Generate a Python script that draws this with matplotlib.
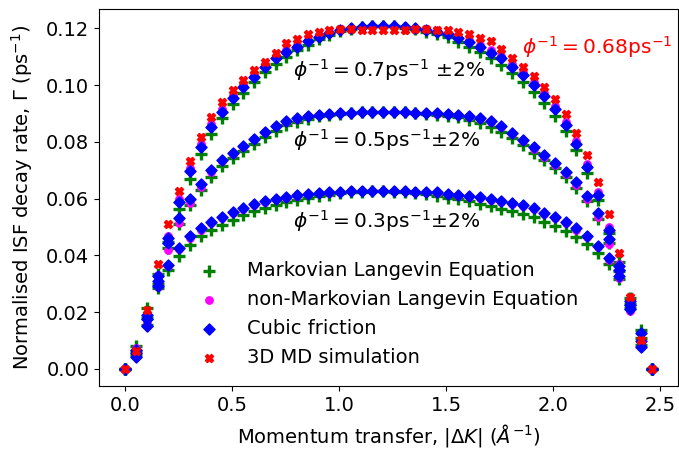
"""
ISF decay rate vs momentum transfer for three friction values,
comparing the Langevin models with the 3D MD result.
"""

import matplotlib
matplotlib.use("Agg")
import matplotlib.pyplot as plt

# momentum transfer |dK| (1/A)
dk = [0.0000, 0.0502, 0.1004, 0.1506, 0.2008, 0.2510, 0.3012, 0.3514, 0.4016, 0.4518,
      0.5020, 0.5522, 0.6024, 0.6527, 0.7029, 0.7531, 0.8033, 0.8535, 0.9037, 0.9539,
      1.0041, 1.0543, 1.1045, 1.1547, 1.2049, 1.2551, 1.3053, 1.3555, 1.4057, 1.4559,
      1.5061, 1.5563, 1.6065, 1.6567, 1.7069, 1.7571, 1.8073, 1.8576, 1.9078, 1.9580,
      2.0082, 2.0584, 2.1086, 2.1588, 2.2090, 2.2592, 2.3094, 2.3596, 2.4098, 2.4600]

# phi^-1 = 0.7 ps^-1
cubic_07 = [0.0, 0.0068, 0.0191, 0.0328, 0.0461, 0.0588, 0.0697, 0.0782, 0.0851, 0.0906,
            0.0954, 0.0993, 0.1030, 0.1065, 0.1094, 0.1116, 0.1136, 0.1154, 0.1170, 0.1185,
            0.1194, 0.1200, 0.1205, 0.1207, 0.1208, 0.1207, 0.1204, 0.1200, 0.1194, 0.1188,
            0.1179, 0.1165, 0.1151, 0.1135, 0.1115, 0.1094, 0.1065, 0.1036, 0.1000, 0.0962,
            0.0915, 0.0860, 0.0793, 0.0713, 0.0613, 0.0488, 0.0362, 0.0240, 0.0125, 0.0]
markov_07 = [0.0, 0.0080, 0.0215, 0.0333, 0.0448, 0.0565, 0.0668, 0.0758, 0.0828, 0.0884,
             0.0933, 0.0973, 0.1010, 0.1045, 0.1076, 0.1100, 0.1123, 0.1143, 0.1162, 0.1178,
             0.1190, 0.1198, 0.1204, 0.1207, 0.1208, 0.1207, 0.1203, 0.1197, 0.1189, 0.1180,
             0.1168, 0.1152, 0.1135, 0.1116, 0.1094, 0.1072, 0.1042, 0.1012, 0.0976, 0.0938,
             0.0892, 0.0838, 0.0772, 0.0692, 0.0596, 0.0478, 0.0375, 0.0250, 0.0138, 0.0]
nonmarkov_07 = [0.0, 0.0072, 0.0195, 0.0332, 0.0470, 0.0598, 0.0707, 0.0792, 0.0862, 0.0917,
                0.0965, 0.1004, 0.1040, 0.1074, 0.1102, 0.1124, 0.1143, 0.1160, 0.1175, 0.1188,
                0.1196, 0.1201, 0.1205, 0.1207, 0.1208, 0.1207, 0.1205, 0.1202, 0.1197, 0.1192,
                0.1184, 0.1171, 0.1158, 0.1143, 0.1124, 0.1104, 0.1076, 0.1047, 0.1012, 0.0973,
                0.0926, 0.0870, 0.0803, 0.0723, 0.0624, 0.0500, 0.0370, 0.0245, 0.0128, 0.0]
md_068 = [0.0, 0.0062, 0.0209, 0.0370, 0.0511, 0.0628, 0.0731, 0.0816, 0.0886, 0.0939,
          0.0983, 0.1018, 0.1053, 0.1080, 0.1115, 0.1150, 0.1163, 0.1180, 0.1189, 0.1194,
          0.1198, 0.1197, 0.1194, 0.1193, 0.1193, 0.1194, 0.1195, 0.1197, 0.1198, 0.1196,
          0.1194, 0.1188, 0.1182, 0.1167, 0.1155, 0.1127, 0.1094, 0.1065, 0.1033, 0.0993,
          0.0950, 0.0897, 0.0830, 0.0753, 0.0657, 0.0546, 0.0410, 0.0255, 0.0103, 0.0]

# phi^-1 = 0.5 ps^-1
cubic_05 = [0.0, 0.0056, 0.0175, 0.0310, 0.0443, 0.0533, 0.0600, 0.0650, 0.0700, 0.0736,
            0.0762, 0.0786, 0.0811, 0.0836, 0.0856, 0.0872, 0.0883, 0.0891, 0.0896, 0.0899,
            0.0901, 0.0903, 0.0904, 0.0905, 0.0905, 0.0905, 0.0904, 0.0903, 0.0901, 0.0901,
            0.0899, 0.0896, 0.0891, 0.0883, 0.0872, 0.0856, 0.0832, 0.0807, 0.0781, 0.0754,
            0.0727, 0.0695, 0.0657, 0.0610, 0.0548, 0.0458, 0.0348, 0.0225, 0.0100, 0.0]
markov_05 = [0.0, 0.0062, 0.0180, 0.0300, 0.0425, 0.0512, 0.0578, 0.0630, 0.0678, 0.0715,
             0.0742, 0.0767, 0.0793, 0.0818, 0.0840, 0.0858, 0.0871, 0.0882, 0.0890, 0.0895,
             0.0899, 0.0902, 0.0904, 0.0905, 0.0905, 0.0905, 0.0904, 0.0902, 0.0899, 0.0896,
             0.0892, 0.0886, 0.0878, 0.0866, 0.0852, 0.0834, 0.0812, 0.0788, 0.0762, 0.0735,
             0.0707, 0.0675, 0.0637, 0.0590, 0.0530, 0.0445, 0.0345, 0.0228, 0.0110, 0.0]
nonmarkov_05 = [0.0, 0.0068, 0.0165, 0.0300, 0.0420, 0.0515, 0.0585, 0.0640, 0.0693, 0.0731,
                0.0758, 0.0783, 0.0809, 0.0834, 0.0855, 0.0871, 0.0882, 0.0890, 0.0896, 0.0899,
                0.0901, 0.0903, 0.0904, 0.0905, 0.0905, 0.0905, 0.0904, 0.0903, 0.0901, 0.0900,
                0.0898, 0.0895, 0.0889, 0.0881, 0.0869, 0.0852, 0.0828, 0.0802, 0.0775, 0.0746,
                0.0720, 0.0688, 0.0648, 0.0600, 0.0535, 0.0440, 0.0340, 0.0220, 0.0105, 0.0]

# phi^-1 = 0.3 ps^-1
cubic_03 = [0.0, 0.0042, 0.0152, 0.0291, 0.0367, 0.0426, 0.0467, 0.0496, 0.0519, 0.0535,
            0.0552, 0.0566, 0.0580, 0.0592, 0.0599, 0.0605, 0.0612, 0.0617, 0.0620, 0.0622,
            0.0625, 0.0626, 0.0627, 0.0627, 0.0627, 0.0627, 0.0626, 0.0625, 0.0625, 0.0622,
            0.0617, 0.0613, 0.0610, 0.0605, 0.0598, 0.0593, 0.0586, 0.0578, 0.0566, 0.0551,
            0.0535, 0.0519, 0.0496, 0.0469, 0.0434, 0.0391, 0.0328, 0.0210, 0.0078, 0.0]
markov_03 = [0.0, 0.0050, 0.0155, 0.0285, 0.0350, 0.0399, 0.0438, 0.0467, 0.0490, 0.0508,
             0.0526, 0.0541, 0.0556, 0.0568, 0.0578, 0.0587, 0.0596, 0.0603, 0.0609, 0.0614,
             0.0619, 0.0622, 0.0625, 0.0626, 0.0626, 0.0625, 0.0623, 0.0620, 0.0616, 0.0611,
             0.0604, 0.0597, 0.0590, 0.0582, 0.0573, 0.0565, 0.0556, 0.0546, 0.0534, 0.0519,
             0.0503, 0.0487, 0.0465, 0.0440, 0.0407, 0.0368, 0.0318, 0.0215, 0.0085, 0.0]
nonmarkov_03 = [0.0, 0.0045, 0.0150, 0.0288, 0.0362, 0.0421, 0.0462, 0.0491, 0.0514, 0.0531,
                0.0548, 0.0562, 0.0576, 0.0589, 0.0597, 0.0603, 0.0610, 0.0615, 0.0619, 0.0621,
                0.0624, 0.0626, 0.0627, 0.0627, 0.0627, 0.0627, 0.0626, 0.0624, 0.0623, 0.0620,
                0.0615, 0.0610, 0.0606, 0.0601, 0.0594, 0.0589, 0.0582, 0.0574, 0.0562, 0.0547,
                0.0531, 0.0514, 0.0491, 0.0464, 0.0429, 0.0385, 0.0322, 0.0205, 0.0080, 0.0]

markov_all = markov_07 + markov_05 + markov_03
nonmarkov_all = nonmarkov_07 + nonmarkov_05 + nonmarkov_03
cubic_all = cubic_07 + cubic_05 + cubic_03
dk_all = dk * 3

plt.rcParams["font.family"] = "DejaVu Sans"
plt.rcParams["mathtext.fontset"] = "dejavusans"
fs = 14
fs_note = 14.5

fig = plt.figure(figsize=(6.79, 4.5), dpi=100)
ax = fig.add_axes([0.1458, 0.1422, 0.8527, 0.8378])

ax.scatter(dk_all, markov_all, marker="+", s=70, linewidths=2.4, color="green",
           label="Markovian Langevin Equation")
ax.scatter(dk_all, nonmarkov_all, marker="o", s=28, color="magenta",
           label="non-Markovian Langevin Equation")
ax.scatter(dk_all, cubic_all, marker="D", s=32, color="blue",
           label="Cubic friction")
ax.scatter(dk, md_068, marker="X", s=34, color="red",
           label="3D MD simulation")

ax.text(0.784, 0.1030, r"$\phi^{-1} = 0.7$ps$^{-1}$ $\pm2\%$", fontsize=fs_note, va="baseline")
ax.text(0.784, 0.0783, r"$\phi^{-1} = 0.5$ps$^{-1}$$\pm2\%$", fontsize=fs_note, va="baseline")
ax.text(0.784, 0.0496, r"$\phi^{-1} = 0.3$ps$^{-1}$$\pm2\%$", fontsize=fs_note, va="baseline")
ax.text(1.855, 0.1112, r"$\phi^{-1} = 0.68$ps$^{-1}$", fontsize=fs_note, va="baseline",
        color="red")

ax.set_xticks([0.0, 0.5, 1.0, 1.5, 2.0, 2.5])
ax.set_yticks([0.00, 0.02, 0.04, 0.06, 0.08, 0.10, 0.12])
ax.tick_params(labelsize=fs)
ax.set_xlabel(r"Momentum transfer, $|\Delta K|$ $(\AA^{-1})$", fontsize=fs, labelpad=5)
ax.set_ylabel(r"Normalised ISF decay rate, $\Gamma$ (ps$^{-1}$)", fontsize=fs, labelpad=8)

ax.legend(loc="lower left", bbox_to_anchor=(0.126, 0.005), frameon=False,
          fontsize=fs, handletextpad=0.96)

fig.savefig("out.png", dpi=100)
